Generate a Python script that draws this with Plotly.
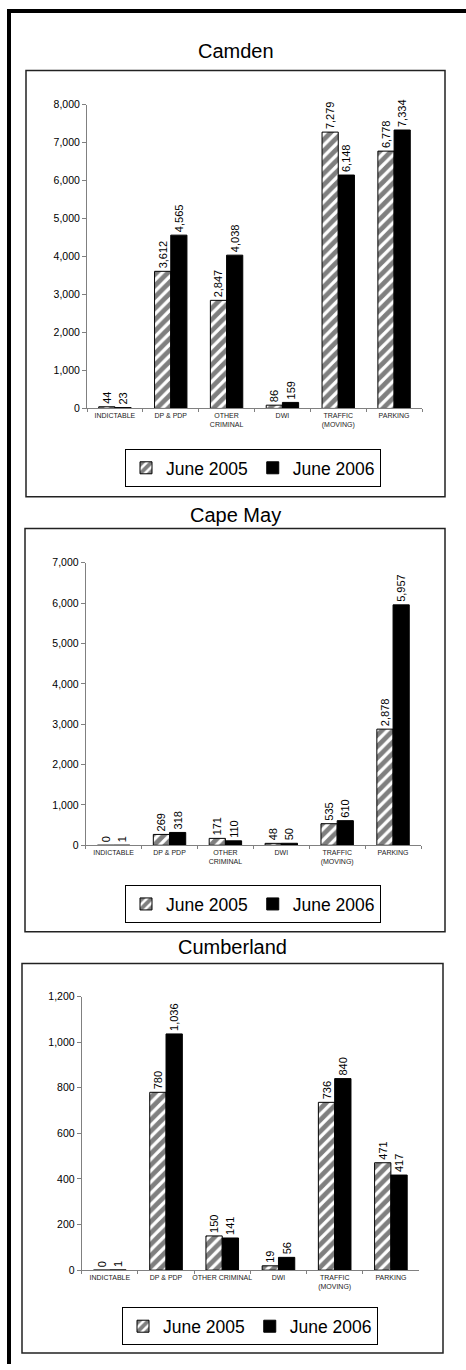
import plotly.graph_objects as go

# Municipal court filings by case type, June 2005 vs June 2006
categories = ["INDICTABLE", "DP & PDP", "OTHER CRIMINAL", "DWI", "TRAFFIC (MOVING)", "PARKING"]
labels_wrapped = ["INDICTABLE", "DP & PDP", "OTHER<br>CRIMINAL", "DWI", "TRAFFIC<br>(MOVING)", "PARKING"]
labels_cumberland = ["INDICTABLE", "DP & PDP", "OTHER CRIMINAL", "DWI", "TRAFFIC<br>(MOVING)", "PARKING"]

series_names = ["June 2005", "June 2006"]

camden_2005 = [44, 3612, 2847, 86, 7279, 6778]
camden_2006 = [23, 4565, 4038, 159, 6148, 7334]
capemay_2005 = [0, 269, 171, 48, 535, 2878]
capemay_2006 = [1, 318, 110, 50, 610, 5957]
cumberland_2005 = [0, 780, 150, 19, 736, 471]
cumberland_2006 = [1, 1036, 141, 56, 840, 417]

counties = ["Camden", "Cape May", "Cumberland"]
camden_ticks = [0, 1000, 2000, 3000, 4000, 5000, 6000, 7000, 8000]
capemay_ticks = [0, 1000, 2000, 3000, 4000, 5000, 6000, 7000]
cumberland_ticks = [0, 200, 400, 600, 800, 1000, 1200]

W, H = 466, 1370
FONT = "Liberation Sans, Arial, sans-serif"


def px_x(v):
    return v / W


def px_y(v):
    return 1 - v / H


# Per-panel layout in page pixels
panels = [
    dict(name=counties[0], a=camden_2005, b=camden_2006, ticks=camden_ticks,
         labels=labels_wrapped, plot=(87, 422, 99.6, 406), box=(26, 445, 65, 495),
         title_y=45, legend=(253, 466)),
    dict(name=counties[1], a=capemay_2005, b=capemay_2006, ticks=capemay_ticks,
         labels=labels_wrapped, plot=(85.7, 421, 561.7, 846.7), box=(25, 445, 527, 934),
         title_y=513, legend=(253, 906)),
    dict(name=counties[2], a=cumberland_2005, b=cumberland_2006, ticks=cumberland_ticks,
         labels=labels_cumberland, plot=(81.7, 419, 999.3, 1275.3), box=(22, 443, 966, 1359),
         title_y=949, legend=(250, 1332)),
]

fig = go.Figure()
shapes = []
annotations = []
layout = {}

for i, p in enumerate(panels, start=1):
    sfx = "" if i == 1 else str(i)
    xa, ya = "x" + sfx, "y" + sfx
    leg = "legend" + sfx

    fig.add_trace(go.Bar(
        x=categories, y=p["a"], name=series_names[0], xaxis=xa, yaxis=ya, legend=leg,
        marker=dict(color="white", line=dict(color="black", width=1),
                    pattern=dict(shape="/", fgcolor="black", bgcolor="white",
                                 size=8, solidity=0.6)),
        texttemplate="%{y:,}", textposition="outside", textangle=-90,
        constraintext="none", cliponaxis=False,
        textfont=dict(family=FONT, size=11, color="black"),
    ))
    fig.add_trace(go.Bar(
        x=categories, y=p["b"], name=series_names[1], xaxis=xa, yaxis=ya, legend=leg,
        marker=dict(color="black", line=dict(color="black", width=1)),
        texttemplate="%{y:,}", textposition="outside", textangle=-90,
        constraintext="none", cliponaxis=False,
        textfont=dict(family=FONT, size=11, color="black"),
    ))

    x0, x1, y0, y1 = p["plot"]
    layout["xaxis" + sfx] = dict(
        domain=[px_x(x0), px_x(x1)], anchor=ya,
        type="category", tickmode="array", tickvals=categories, ticktext=p["labels"],
        tickangle=0, tickson="boundaries", ticks="outside", ticklen=3, tickcolor="#808080",
        showline=True, linecolor="#808080", linewidth=1, showgrid=False,
        tickfont=dict(family=FONT, size=7, color="#222222"), fixedrange=True,
    )
    layout["yaxis" + sfx] = dict(
        domain=[px_y(y1), px_y(y0)], anchor=xa,
        range=[0, p["ticks"][-1]], tickmode="array", tickvals=p["ticks"],
        tickformat=",", ticks="outside", ticklen=4, tickcolor="#808080",
        showline=True, linecolor="#808080", linewidth=1, showgrid=False,
        zeroline=False, tickfont=dict(family=FONT, size=10.5, color="black"),
        fixedrange=True,
    )
    lx, ly = p["legend"]
    layout[leg] = dict(
        orientation="h", x=px_x(lx), y=px_y(ly), xanchor="center", yanchor="middle",
        xref="paper", yref="paper", bordercolor="black", borderwidth=1,
        bgcolor="white", font=dict(family=FONT, size=17.5, color="black"),
        itemwidth=30, traceorder="normal",
    )

    bx0, bx1, by0, by1 = p["box"]
    shapes.append(dict(type="rect", xref="paper", yref="paper",
                       x0=px_x(bx0), x1=px_x(bx1), y0=px_y(by1), y1=px_y(by0),
                       line=dict(color="#222222", width=1.5), layer="below"))
    annotations.append(dict(text=p["name"], xref="paper", yref="paper",
                            x=px_x((bx0 + bx1) / 2), y=px_y(p["title_y"]),
                            xanchor="center", yanchor="middle", showarrow=False,
                            font=dict(family=FONT, size=20, color="black")))

# heavy page frame along the top and left edges
shapes.append(dict(type="rect", xref="paper", yref="paper",
                   x0=px_x(7), x1=px_x(11), y0=0, y1=px_y(3),
                   fillcolor="black", line=dict(width=0)))
shapes.append(dict(type="rect", xref="paper", yref="paper",
                   x0=px_x(7), x1=1, y0=px_y(7), y1=px_y(3),
                   fillcolor="black", line=dict(width=0)))

fig.update_layout(
    width=W, height=H, margin=dict(l=0, r=0, t=0, b=0),
    paper_bgcolor="white", plot_bgcolor="white",
    barmode="group", bargap=0.42, bargroupgap=0,
    showlegend=True, shapes=shapes, annotations=annotations,
    font=dict(family=FONT), **layout,
)

fig.write_html("out.html")
